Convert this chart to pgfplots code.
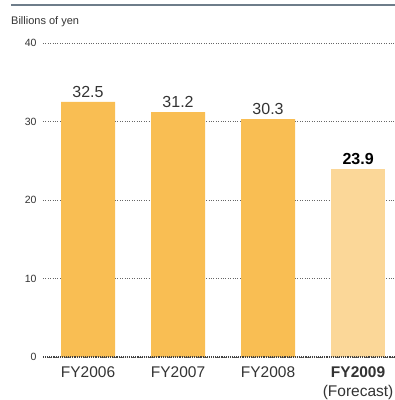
\documentclass[border=0pt]{standalone}
\usepackage{pgfplots}
\pgfplotsset{compat=1.18}
\usepackage{fontspec}
\setmainfont{Liberation Sans}
\definecolor{barA}{RGB}{249,190,83}
\definecolor{barB}{RGB}{251,215,152}
\definecolor{txt}{RGB}{51,51,51}
\definecolor{topline}{RGB}{110,125,138}
\begin{document}
\begin{tikzpicture}[x=1pt,y=1pt]
\path[use as bounding box] (-43,-43) rectangle (352,357);
\draw[topline, line width=1.6pt] (-32,352) -- (352,352);
\node[anchor=west, text=txt, font=\fontsize{11}{12}\selectfont, inner sep=0pt] at (-32,335) {Billions of yen};
\begin{axis}[
  at={(0,0)}, anchor=south west,
  scale only axis, width=352pt, height=314pt,
  xmin=-0.5, xmax=3.41, ymin=0, ymax=40,
  axis line style={draw=none},
  ytick={0,10,20,30,40},
  xtick={0,1,2,3},
  xticklabels={FY2006,FY2007,FY2008,{\textbf{FY2009}\\(Forecast)}},
  x tick label style={align=center, text=txt, font=\fontsize{15.5}{19}\selectfont, yshift=-6pt},
  y tick label style={text=txt, font=\fontsize{10.5}{12}\selectfont, xshift=-3pt},
  /pgf/number format/assume math mode=true,
  major tick length=0pt,
  tick style={draw=none},
  ymajorgrids,
  grid style={dotted, black!60, line width=0.5pt},
  clip=false,
  nodes near coords,
  nodes near coords style={font=\fontsize{16}{18}\selectfont, text=txt, yshift=1pt},
]
\addplot[ybar, bar width=54pt, bar shift=0pt, fill=barA, draw=none] coordinates {(0,32.5) (1,31.2) (2,30.3)};
\addplot[ybar, bar width=54pt, bar shift=0pt, fill=barB, draw=none,
  nodes near coords style={font=\fontsize{16}{18}\selectfont\bfseries, text=black}] coordinates {(3,23.9)};
\draw[densely dotted, black!75, line width=1.1pt] (axis cs:-0.5,0) -- (axis cs:3.41,0);
\end{axis}
\end{tikzpicture}
\end{document}
